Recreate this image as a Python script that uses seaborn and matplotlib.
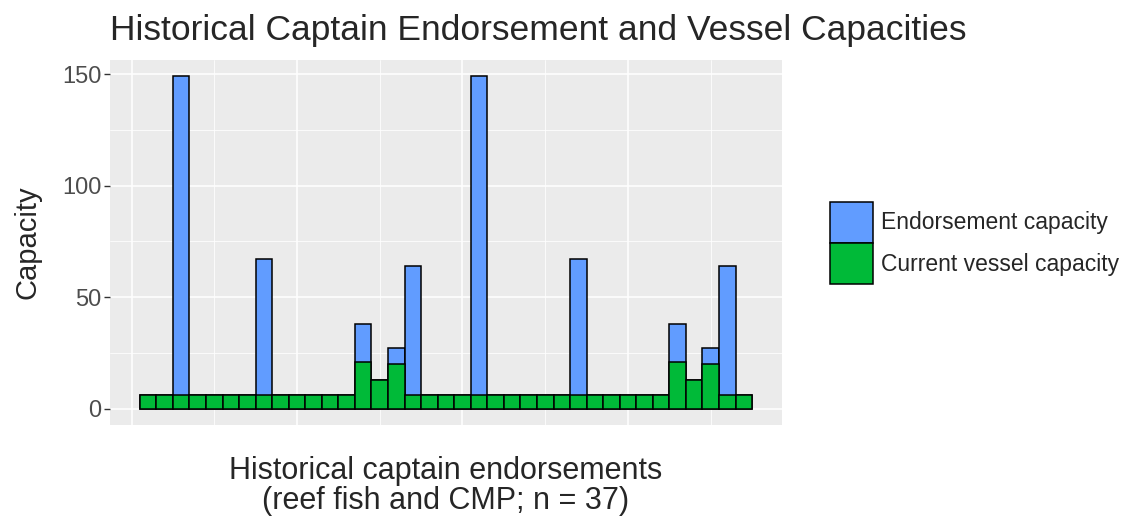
import numpy as np
import pandas as pd
import matplotlib
matplotlib.use("Agg")
import matplotlib.pyplot as plt
import seaborn as sns
from matplotlib.patches import Patch
from matplotlib.ticker import MultipleLocator, NullFormatter

# one bar per historical captain endorsement (n = 37)
endorsement_id = list(range(1, 38))
endorsement_capacity = [6, 6, 149, 6, 6, 6, 6, 67, 6, 6, 6, 6, 6, 38, 13, 27, 64, 6, 6,
                        6, 149, 6, 6, 6, 6, 6, 67, 6, 6, 6, 6, 6, 38, 13, 27, 64, 6]
current_capacity = [6, 6, 6, 6, 6, 6, 6, 6, 6, 6, 6, 6, 6, 21, 13, 20, 6, 6, 6,
                    6, 6, 6, 6, 6, 6, 6, 6, 6, 6, 6, 6, 6, 21, 13, 20, 6, 6]
legend_labels = ["Endorsement capacity", "Current vessel capacity"]

blue = "#619CFF"
green = "#00BA38"

df = pd.DataFrame({"id": endorsement_id,
                   "endorse": endorsement_capacity,
                   "current": current_capacity})

sns.set_theme(style="darkgrid", rc={"axes.facecolor": "#EBEBEB",
                                    "grid.color": "white"})
plt.rcParams["font.family"] = ["Liberation Sans", "DejaVu Sans"]

fig = plt.figure(figsize=(11.25, 5.16), dpi=100)
ax = fig.add_axes([0.0978, 0.176, 0.695 - 0.0978, 0.884 - 0.176])

# endorsement bars first, current vessel capacity drawn over them
sns.barplot(data=df, x="id", y="endorse", native_scale=True, width=1,
            color=blue, saturation=1, edgecolor="black", linewidth=1.1, ax=ax)
sns.barplot(data=df, x="id", y="current", native_scale=True, width=1,
            color=green, saturation=1, edgecolor="black", linewidth=1.1, ax=ax)

ax.set_xlim(-1.3, 39.3)
ax.set_ylim(-7.45, 156.45)

ax.xaxis.set_major_locator(MultipleLocator(10))
ax.xaxis.set_minor_locator(MultipleLocator(5))
ax.yaxis.set_major_locator(MultipleLocator(50))
ax.yaxis.set_minor_locator(MultipleLocator(25))
ax.xaxis.set_major_formatter(NullFormatter())
ax.grid(which="major", color="white", linewidth=1.1)
ax.grid(which="minor", color="white", linewidth=0.55)
ax.set_axisbelow(True)
for s in ax.spines.values():
    s.set_visible(False)

ax.tick_params(axis="y", which="major", left=True, length=4, width=1,
               color="#333333", labelcolor="#4D4D4D", labelsize=17, pad=2)
ax.tick_params(axis="x", which="both", bottom=False, length=0)
ax.tick_params(axis="y", which="minor", left=False)

ax.set_xlabel("Historical captain endorsements\n(reef fish and CMP; n = 37)",
              fontsize=22, labelpad=19, linespacing=1.0)
ax.set_ylabel("Capacity", fontsize=21, labelpad=15)

fig.text(0.0978, 0.922, "Historical Captain Endorsement and Vessel Capacities",
         fontsize=25.5, ha="left", va="baseline")

handles = [Patch(facecolor=blue, edgecolor="black", linewidth=1.1),
           Patch(facecolor=green, edgecolor="black", linewidth=1.1)]
fig.legend(handles, legend_labels, loc="center left", bbox_to_anchor=(0.738, 0.529),
           frameon=False, fontsize=16.5, handlelength=1.85, handleheight=2.4,
           labelspacing=0.0, handletextpad=0.35, borderpad=0, borderaxespad=0)

fig.savefig("out.png", dpi=100)
